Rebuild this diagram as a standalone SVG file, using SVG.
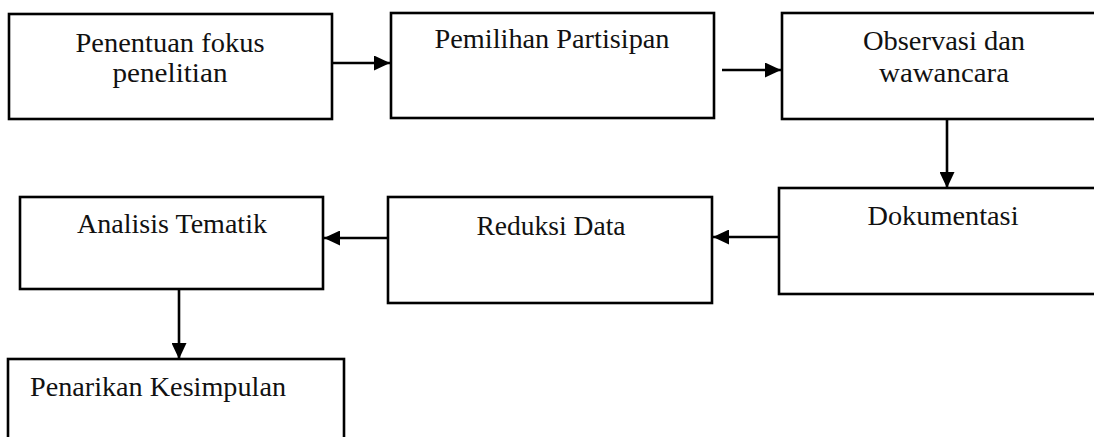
<svg xmlns="http://www.w3.org/2000/svg" width="1094" height="437" viewBox="0 0 1094 437">
  <style>
    .box { fill: #ffffff; stroke: #000000; stroke-width: 2.6; }
    .lbl { font-family: "Liberation Serif", "Times New Roman", serif; font-size: 28px; fill: #111111; text-anchor: middle; }
    .conn { stroke: #000000; stroke-width: 2.6; fill: none; marker-end: url(#arrow); }
  </style>
  <defs>
    <marker id="arrow" markerUnits="userSpaceOnUse" markerWidth="17" markerHeight="15" refX="16" refY="7.5" orient="auto">
      <path d="M0,0 L16,7.5 L0,15 Z" fill="#000000"/>
    </marker>
  </defs>
  <rect width="1094" height="437" fill="#ffffff"/>

  <g id="connectors">
    <line class="conn" x1="332" y1="63" x2="390" y2="63"/>
    <line class="conn" x1="722" y1="70" x2="781" y2="70"/>
    <line class="conn" x1="947" y1="119" x2="947" y2="188"/>
    <line class="conn" x1="779" y1="237" x2="713" y2="237"/>
    <line class="conn" x1="388" y1="238" x2="324" y2="238"/>
    <line class="conn" x1="179" y1="289" x2="179" y2="359"/>
  </g>

  <g id="node-penentuan">
    <rect class="box" x="9" y="14" width="323" height="105"/>
    <text class="lbl" x="170" y="52" textLength="189" lengthAdjust="spacingAndGlyphs">Penentuan fokus</text>
    <text class="lbl" x="170" y="82" textLength="115" lengthAdjust="spacingAndGlyphs">penelitian</text>
  </g>

  <g id="node-pemilihan">
    <rect class="box" x="391" y="13" width="323" height="105"/>
    <text class="lbl" x="552" y="48" textLength="235" lengthAdjust="spacingAndGlyphs">Pemilihan Partisipan</text>
  </g>

  <g id="node-observasi">
    <rect class="box" x="782" y="13" width="330" height="106"/>
    <text class="lbl" x="944" y="50" textLength="162" lengthAdjust="spacingAndGlyphs">Observasi dan</text>
    <text class="lbl" x="944" y="82" textLength="130" lengthAdjust="spacingAndGlyphs">wawancara</text>
  </g>

  <g id="node-dokumentasi">
    <rect class="box" x="779" y="188" width="330" height="106"/>
    <text class="lbl" x="943" y="225" textLength="151" lengthAdjust="spacingAndGlyphs">Dokumentasi</text>
  </g>

  <g id="node-reduksi">
    <rect class="box" x="388" y="197" width="324" height="106"/>
    <text class="lbl" x="551" y="235" textLength="149" lengthAdjust="spacingAndGlyphs">Reduksi Data</text>
  </g>

  <g id="node-analisis">
    <rect class="box" x="20" y="197" width="303" height="92"/>
    <text class="lbl" x="172" y="233" textLength="190" lengthAdjust="spacingAndGlyphs">Analisis Tematik</text>
  </g>

  <g id="node-penarikan">
    <rect class="box" x="8" y="359" width="336" height="90"/>
    <text class="lbl" x="158" y="396" textLength="256" lengthAdjust="spacingAndGlyphs">Penarikan Kesimpulan</text>
  </g>
</svg>
